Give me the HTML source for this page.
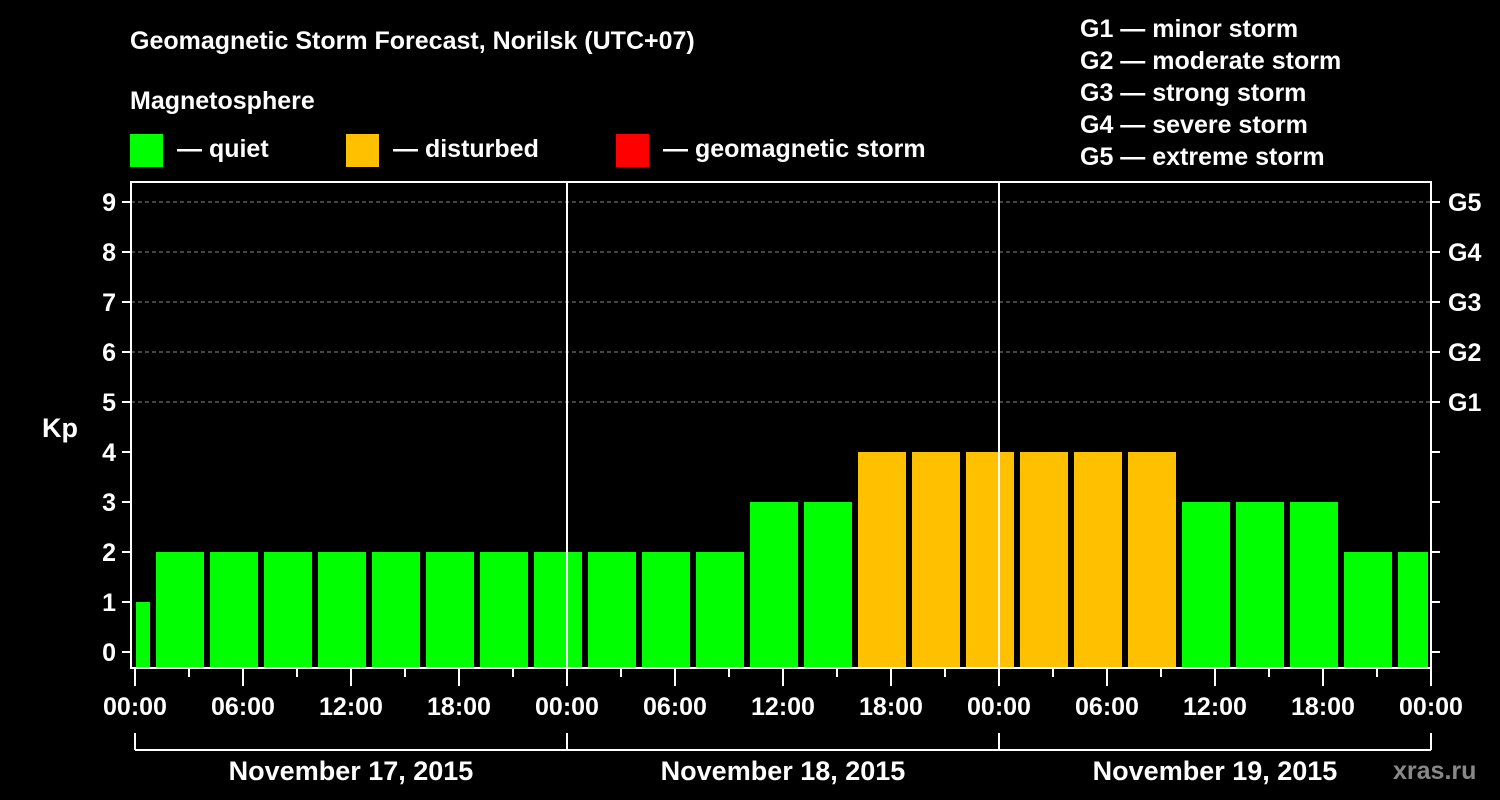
<!DOCTYPE html>
<html><head><meta charset="utf-8"><style>
html,body{margin:0;padding:0;background:#000;}
svg{display:block;font-family:"Liberation Sans",Arial,sans-serif;font-weight:bold;}
</style></head><body>
<svg id="c" width="1500" height="800" viewBox="0 0 1500 800">
<rect x="0" y="0" width="1500" height="800" fill="#000"/>
<text x="130" y="49" fill="#fff" font-size="25">Geomagnetic Storm Forecast, Norilsk (UTC+07)</text>
<text x="130" y="109" fill="#fff" font-size="25">Magnetosphere</text>
<g><rect x="130" y="134" width="33" height="33" fill="#00ff00"/><text x="177" y="157" fill="#fff" font-size="25">— quiet</text></g>
<g><rect x="346" y="134" width="33" height="33" fill="#ffc000"/><text x="393" y="157" fill="#fff" font-size="25">— disturbed</text></g>
<g><rect x="616" y="134" width="33" height="33" fill="#ff0000"/><text x="663" y="157" fill="#fff" font-size="25">— geomagnetic storm</text></g>
<g fill="#fff" font-size="25">
<text x="1080" y="37">G1 — minor storm</text>
<text x="1080" y="69">G2 — moderate storm</text>
<text x="1080" y="101">G3 — strong storm</text>
<text x="1080" y="133">G4 — severe storm</text>
<text x="1080" y="165">G5 — extreme storm</text>
</g>
<text x="42" y="437" fill="#fff" font-size="27">Kp</text>
<text x="1393" y="779" fill="#888" font-size="25">xras.ru</text>
<g id="g"></g>
</svg>
<script>
const kpValues=[1,2,2,2,2,2,2,2,2,2,2,2,3,3,4,4,4,4,4,4,3,3,3,2,2];
const yTicks=[0,1,2,3,4,5,6,7,8,9];
const gLabels=["G1","G2","G3","G4","G5"];
const xTickLabels=["00:00","06:00","12:00","18:00","00:00","06:00","12:00","18:00","00:00","06:00","12:00","18:00","00:00"];
const dayLabels=["November 17, 2015","November 18, 2015","November 19, 2015"];
const NS="http://www.w3.org/2000/svg";
const g=document.getElementById('g');
const X0=135,PXH=18,TOTALH=72;
const xs=h=>X0+h*PXH;
const ys=v=>652-v*50;
function mk(t,a,p){const e=document.createElementNS(NS,t);for(const k in a)e.setAttribute(k,a[k]);(p||g).appendChild(e);return e;}
// grid
for(let v=5;v<=9;v++){const l=mk('line',{x1:131,x2:1431,y1:ys(v),y2:ys(v),stroke:'#888','stroke-width':1,'stroke-dasharray':'4,3'});

}
// bars: first 0-1h, then 3h slots, last partial
kpValues.forEach((v,i)=>{
 let h0=i===0?0:1+3*(i-1);let h1=Math.min(i===0?1:h0+3,TOTALH);
 let x0=xs(h0)+(i===0?1:3),x1=xs(h1)-3;
 const col=v>=5?'#ff0000':(v>=4?'#ffc000':'#00ff00');
 const r=mk('rect',{x:x0,y:ys(v),width:x1-x0,height:668-ys(v),fill:col});
 
 
});
// day separators
[1,2].forEach(d=>{const l=mk('line',{x1:xs(24*d),x2:xs(24*d),y1:182,y2:668,stroke:'#fff','stroke-width':2});

});
// frame
const f=mk('rect',{x:131,y:182,width:1300,height:486,fill:'none',stroke:'#fff','stroke-width':2});


// y ticks
yTicks.forEach(v=>{
 mk('line',{x1:122,x2:131,y1:ys(v),y2:ys(v),stroke:'#fff','stroke-width':2});
 mk('line',{x1:1431,x2:1440,y1:ys(v),y2:ys(v),stroke:'#fff','stroke-width':2});
 const t=mk('text',{x:116,y:ys(v)+9,fill:'#fff','font-size':25,'text-anchor':'end'});t.textContent=v;
 
 
});
gLabels.forEach((s,i)=>{const t=mk('text',{x:1448,y:ys(5+i)+9,fill:'#fff','font-size':25});t.textContent=s;
 
 });
// x ticks
for(let h=0;h<=TOTALH;h+=3){const maj=h%6===0;mk('line',{x1:xs(h),x2:xs(h),y1:668,y2:maj?686:677,stroke:'#fff','stroke-width':2});}
xTickLabels.forEach((s,i)=>{const t=mk('text',{x:xs(i*6),y:715,fill:'#fff','font-size':25,'text-anchor':'middle'});t.textContent=s;
 
 });
// day bracket
mk('line',{x1:xs(0),x2:xs(72),y1:750,y2:750,stroke:'#fff','stroke-width':2});
for(let d=0;d<=3;d++)mk('line',{x1:xs(24*d),x2:xs(24*d),y1:733,y2:750,stroke:'#fff','stroke-width':2});
dayLabels.forEach((s,i)=>{const t=mk('text',{x:xs(24*i+12),y:780,fill:'#fff','font-size':27,'text-anchor':'middle'});t.textContent=s;
 
 });
</script>
</body></html>
